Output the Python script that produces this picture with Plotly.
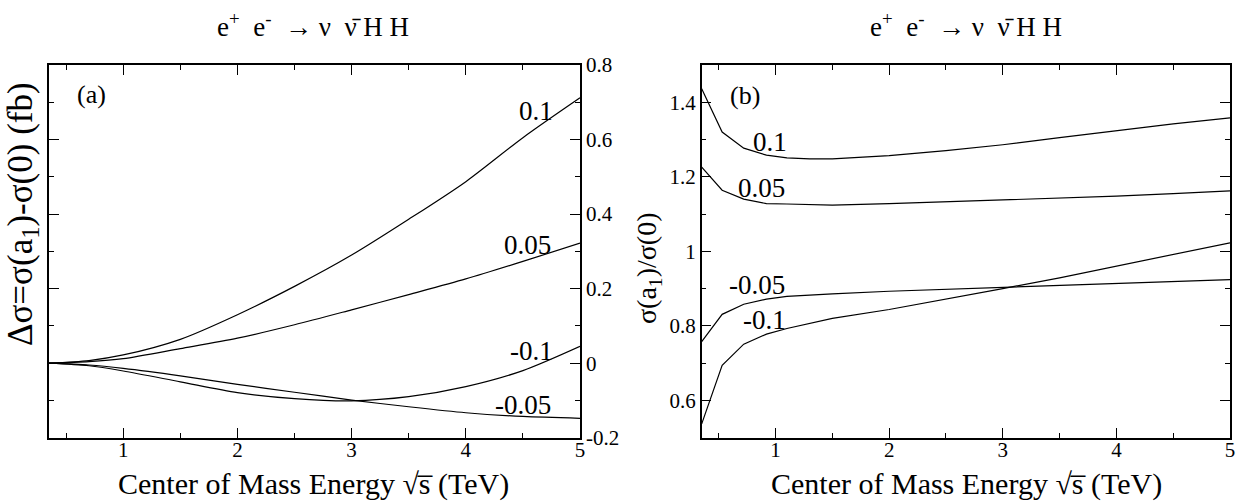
import plotly.graph_objects as go

# ---------------- data ----------------
xa = [0.35, 0.7, 1, 1.5, 2, 2.5, 3, 3.5, 4, 4.5, 5]
da_p10 = [0, 0.007, 0.022, 0.064, 0.13, 0.206, 0.29, 0.386, 0.487, 0.605, 0.712]
da_p05 = [0, 0.004, 0.012, 0.039, 0.067, 0.103, 0.143, 0.184, 0.226, 0.273, 0.322]
da_m05 = [0, -0.005, -0.014, -0.034, -0.057, -0.078, -0.099, -0.117, -0.133, -0.143, -0.148]
da_m10 = [0, -0.007, -0.021, -0.05, -0.079, -0.095, -0.101, -0.09, -0.063, -0.02, 0.045]

xb = [0.35, 0.53, 0.72, 0.92, 1.1, 1.3, 1.5, 2, 2.5, 3, 3.5, 4, 4.5, 5]
rb_p10 = [1.436, 1.32, 1.277, 1.258, 1.251, 1.248, 1.248, 1.257, 1.27, 1.286, 1.305, 1.324, 1.342, 1.358]
rb_p05 = [1.226, 1.164, 1.14, 1.128, 1.127, 1.125, 1.124, 1.128, 1.133, 1.139, 1.144, 1.148, 1.155, 1.162]
rb_m05 = [0.758, 0.831, 0.858, 0.872, 0.879, 0.883, 0.886, 0.893, 0.898, 0.903, 0.907, 0.912, 0.918, 0.924]
rb_m10 = [0.537, 0.694, 0.751, 0.778, 0.793, 0.807, 0.82, 0.844, 0.871, 0.9, 0.929, 0.961, 0.992, 1.023]

xtick_vals = [1, 2, 3, 4, 5]
ya_tick_vals = [-0.2, 0, 0.2, 0.4, 0.6, 0.8]
ya_tick_text = ["-0.2", "0", "0.2", "0.4", "0.6", "0.8"]
yb_tick_vals = [0.6, 0.8, 1.0, 1.2, 1.4]
yb_tick_text = ["0.6", "0.8", "1", "1.2", "1.4"]

labels_a = ["0.1", "0.05", "-0.1", "-0.05"]
labels_b = ["0.1", "0.05", "-0.05", "-0.1"]

SERIF = "Liberation Serif, Times New Roman, serif"
W, H = 1253, 503

fig = go.Figure()
for ys in (da_p10, da_p05, da_m05, da_m10):
    fig.add_trace(go.Scatter(x=xa, y=ys, mode="lines", line=dict(color="black", width=1.2, shape="spline", smoothing=0.8),
                             xaxis="x", yaxis="y", showlegend=False, hoverinfo="skip"))
for ys in (rb_p10, rb_p05, rb_m05, rb_m10):
    fig.add_trace(go.Scatter(x=xb, y=ys, mode="lines", line=dict(color="black", width=1.2),
                             xaxis="x2", yaxis="y2", showlegend=False, hoverinfo="skip"))

def px_x(p):
    return p / W

def px_y(p):
    return 1 - p / H

common_x = dict(range=[0.35, 5], tickvals=xtick_vals, ticks="inside", ticklen=10, tickwidth=1.2,
                tickcolor="black", showline=True, linecolor="black", linewidth=1.5, mirror="ticks",
                showgrid=False, zeroline=False, tickfont=dict(family=SERIF, size=21, color="black"),
                ticklabelstandoff=-8,
                minor=dict(dtick=0.5, tick0=0, ticks="inside", ticklen=5, tickwidth=1.2, tickcolor="black", showgrid=False),
                automargin=False)
common_y = dict(ticks="inside", ticklen=10, tickwidth=1.2, tickcolor="black", showline=True, linecolor="black",
                linewidth=1.5, mirror="ticks", showgrid=False, zeroline=False,
                tickfont=dict(family=SERIF, size=21, color="black"), automargin=False)

ydom = [px_y(437.7), px_y(65.0)]
fig.update_layout(
    width=W, height=H, margin=dict(l=0, r=0, t=0, b=0),
    paper_bgcolor="white", plot_bgcolor="white",
    xaxis=dict(domain=[px_x(49), px_x(580)], anchor="y", **common_x),
    yaxis=dict(domain=ydom, anchor="x", side="right", range=[-0.2, 0.8], tickvals=ya_tick_vals, ticktext=ya_tick_text,
               minor=dict(dtick=0.1, tick0=0, ticks="inside", ticklen=5, tickwidth=1.2, tickcolor="black", showgrid=False),
               **common_y),
    xaxis2=dict(domain=[px_x(701.7), px_x(1230)], anchor="y2", **common_x),
    yaxis2=dict(domain=ydom, anchor="x2", range=[0.5, 1.5], tickvals=yb_tick_vals, ticktext=yb_tick_text,
                minor=dict(dtick=0.1, tick0=0, ticks="inside", ticklen=5, tickwidth=1.2, tickcolor="black", showgrid=False),
                **common_y),
)

ann = []
title_txt = "e<sup>+</sup>\u00a0\u00a0e<sup>-</sup>\u00a0\u00a0\u2192\u00a0\u03bd\u00a0\u00a0\u03bd\u0304\u00a0H\u00a0H"
xtitle_txt = "Center of Mass Energy \u221as\u0305 (TeV)"
C = dict(xanchor="center", yanchor="middle", showarrow=False)
for cx in (313, 966):
    ann.append(dict(text=title_txt, x=px_x(cx), y=px_y(25), xref="paper", yref="paper",
                    font=dict(family=SERIF, size=27, color="black"), **C))
    ann.append(dict(text=xtitle_txt, x=px_x(cx), y=px_y(484), xref="paper", yref="paper",
                    font=dict(family=SERIF, size=30, color="black"), **C))
ann.append(dict(text="\u0394\u03c3=\u03c3(a<sub>1</sub>)-\u03c3(0) (fb)", x=px_x(22), y=px_y(214), xref="paper", yref="paper",
                textangle=-90, font=dict(family=SERIF, size=35, color="black"), **C))
ann.append(dict(text="\u03c3(a<sub>1</sub>)/\u03c3(0)", x=px_x(648), y=px_y(268), xref="paper", yref="paper",
                textangle=-90, font=dict(family=SERIF, size=28, color="black"), **C))

ann.append(dict(text="(a)", x=0.724, y=0.721, xref="x", yref="y", font=dict(family=SERIF, size=26, color="black"), **C))
ann.append(dict(text="(b)", x=0.731, y=1.417, xref="x2", yref="y2", font=dict(family=SERIF, size=26, color="black"), **C))
pos_a = [(4.614, 0.676), (4.544, 0.318), (4.577, 0.033), (4.503, -0.112)]
for t, (x, y) in zip(labels_a, pos_a):
    ann.append(dict(text=t, x=x, y=y, xref="x", yref="y", font=dict(family=SERIF, size=27, color="black"), **C))
pos_b = [(0.951, 1.2925), (0.878, 1.17), (0.834, 0.91), (0.901, 0.816)]
for t, (x, y) in zip(labels_b, pos_b):
    ann.append(dict(text=t, x=x, y=y, xref="x2", yref="y2", font=dict(family=SERIF, size=27, color="black"), **C))

fig.update_layout(annotations=ann)
fig.write_html("out.html", config={"displayModeBar": False},
               post_script="document.body.style.margin='0';document.body.style.overflow='hidden';")
